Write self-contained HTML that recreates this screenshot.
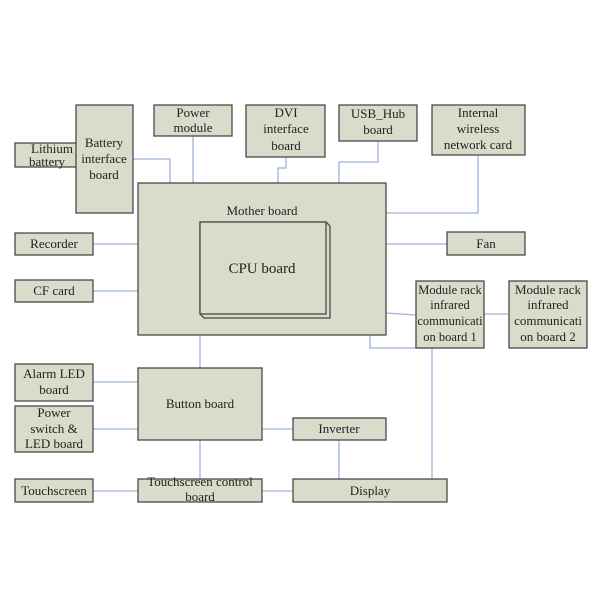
<!DOCTYPE html>
<html><head><meta charset="utf-8"><style>
body{margin:0;background:#fff}
svg text{font-family:"Liberation Serif",serif;fill:#222;text-anchor:middle}
</style></head><body>
<svg width="600" height="600" viewBox="0 0 600 600" xmlns="http://www.w3.org/2000/svg">
<g stroke="#9cb3dc" stroke-width="1.3" fill="none">
<polyline points="133,159 170,159 170,183"/>
<line x1="193" y1="136" x2="193" y2="183"/>
<polyline points="286,157 286,168 278,168 278,183"/>
<polyline points="378,141 378,162 339,162 339,183"/>
<polyline points="478,155 478,213 386,213"/>
<line x1="386" y1="244" x2="447" y2="244"/>
<polyline points="386,313 400,314 416,315"/>
<line x1="484" y1="314" x2="509" y2="314"/>
<polyline points="370,335 370,348 432,348 432,479"/>
<line x1="93" y1="244" x2="138" y2="244"/>
<line x1="93" y1="291" x2="138" y2="291"/>
<line x1="200" y1="335" x2="200" y2="368"/>
<line x1="93" y1="382" x2="138" y2="382"/>
<line x1="93" y1="429" x2="138" y2="429"/>
<line x1="262" y1="429" x2="293" y2="429"/>
<line x1="200" y1="437" x2="200" y2="479"/>
<line x1="339" y1="440" x2="339" y2="479"/>
<line x1="93" y1="491" x2="138" y2="491"/>
<line x1="262" y1="491" x2="293" y2="491"/>
</g>
<g fill="#d9dbcb" stroke="#4a4a4a" stroke-width="1.3">
<rect x="15" y="143" width="64" height="24"/>
<rect x="76" y="105" width="57" height="108"/>
<rect x="154" y="105" width="78" height="31"/>
<rect x="246" y="105" width="79" height="52"/>
<rect x="339" y="105" width="78" height="36"/>
<rect x="432" y="105" width="93" height="50"/>
<rect x="138" y="183" width="248" height="152"/>
<polygon points="200,222 326,222 330,226 330,318 204,318 200,314" fill="#d9dbcb"/>
<rect x="200" y="222" width="126" height="92"/>
<rect x="15" y="233" width="78" height="22"/>
<rect x="15" y="280" width="78" height="22"/>
<rect x="447" y="232" width="78" height="23"/>
<rect x="416" y="281" width="68" height="67"/>
<rect x="509" y="281" width="78" height="67"/>
<rect x="15" y="364" width="78" height="37"/>
<rect x="15" y="406" width="78" height="46"/>
<rect x="138" y="368" width="124" height="72"/>
<rect x="293" y="418" width="93" height="22"/>
<rect x="15" y="479" width="78" height="23"/>
<rect x="138" y="479" width="124" height="23"/>
<rect x="293" y="479" width="154" height="23"/>
</g>
<g font-size="13">
<text x="52" y="153">Lithium</text><text x="47" y="166">battery</text>
<text x="104" y="147">Battery</text><text x="104" y="163">interface</text><text x="104" y="179">board</text>
<text x="193" y="117">Power</text><text x="193" y="132">module</text>
<text x="286" y="117">DVI</text><text x="286" y="133">interface</text><text x="286" y="150">board</text>
<text x="378" y="118">USB_Hub</text><text x="378" y="134">board</text>
<text x="478" y="117">Internal</text><text x="478" y="133">wireless</text><text x="478" y="149">network card</text>
<text x="262" y="215">Mother board</text>
<text x="262" y="273" font-size="15">CPU board</text>
<text x="54" y="248">Recorder</text>
<text x="54" y="295">CF card</text>
<text x="486" y="248">Fan</text>
<text x="450" y="294" font-size="12.5">Module rack</text><text x="450" y="309" font-size="12.5">infrared</text><text x="450" y="325" font-size="12.5">communicati</text><text x="450" y="341" font-size="12.5">on board 1</text>
<text x="548" y="294">Module rack</text><text x="548" y="309">infrared</text><text x="548" y="325">communicati</text><text x="548" y="341">on board 2</text>
<text x="54" y="378">Alarm LED</text><text x="54" y="394">board</text>
<text x="54" y="417">Power</text><text x="54" y="433">switch &amp;</text><text x="54" y="448">LED board</text>
<text x="200" y="408">Button board</text>
<text x="339" y="433">Inverter</text>
<text x="54" y="495">Touchscreen</text>
<text x="200" y="486">Touchscreen control</text><text x="200" y="501">board</text>
<text x="370" y="495">Display</text>
</g>
</svg>
</body></html>
